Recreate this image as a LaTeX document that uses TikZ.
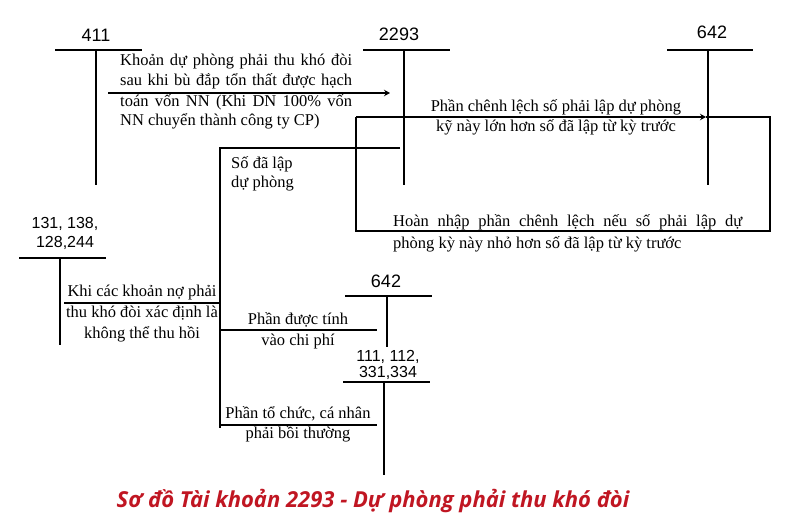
\documentclass[tikz,border=0pt]{standalone}
\usepackage{fontspec}
\setmainfont{Liberation Serif}
\newfontfamily\numfont{Liberation Sans}
\newfontfamily\titlefont{Open Sans}
\usetikzlibrary{arrows.meta}
\definecolor{titlered}{RGB}{192,22,34}
\begin{document}
\begin{tikzpicture}[x=1pt,y=-1pt,
  line/.style={line width=1.6pt},
  flow/.style={line width=1.6pt, -{Stealth[length=6pt,width=6.5pt,inset=2pt]}},
  acct/.style={font=\numfont\fontsize{18}{18}\selectfont, anchor=base, inner sep=0pt},
  acctsm/.style={font=\numfont\fontsize{16}{19}\selectfont, anchor=base, inner sep=0pt, align=center},
  txt/.style={font=\fontsize{16.5}{20}\selectfont, inner sep=0pt},
]
\useasboundingbox (0,0) rectangle (800,519);

% account 411
\coordinate (a411L) at (55,50); \coordinate (a411R) at (142,50);
\coordinate (a411T) at (96,50); \coordinate (a411B) at (96,185);
\node[acct] (n411) at (96,42) {411};
\draw[line] (a411L) -- (a411R); \draw[line] (a411T) -- (a411B);

% account 2293
\coordinate (a2293L) at (363,50); \coordinate (a2293R) at (450,50);
\coordinate (a2293T) at (404,50); \coordinate (a2293B) at (404,185);
\node[acct] (n2293) at (399,41) {2293};
\draw[line] (a2293L) -- (a2293R); \draw[line] (a2293T) -- (a2293B);

% account 642 (top)
\coordinate (a642L) at (667,50); \coordinate (a642R) at (753,50);
\coordinate (a642T) at (708,50); \coordinate (a642B) at (708,185);
\node[acct] (n642) at (712,39) {642};
\draw[line] (a642L) -- (a642R); \draw[line] (a642T) -- (a642B);

% account 131...
\coordinate (a131L) at (19,258); \coordinate (a131R) at (106,258);
\coordinate (a131T) at (60,258); \coordinate (a131B) at (60,345);
\node[acctsm] (n131) at (65,247) {131, 138,\\128,244};
\draw[line] (a131L) -- (a131R); \draw[line] (a131T) -- (a131B);

% account 642 (bottom)
\coordinate (b642L) at (345,296); \coordinate (b642R) at (432,296);
\coordinate (b642T) at (387,296); \coordinate (b642B) at (387,347);
\node[acct] (m642) at (386,287) {642};
\draw[line] (b642L) -- (b642R); \draw[line] (b642T) -- (b642B);

% account 111...
\coordinate (a111L) at (343,382); \coordinate (a111R) at (430,382);
\coordinate (a111T) at (384,382); \coordinate (a111B) at (384,475);
\node[acctsm, font=\numfont\fontsize{16}{15.5}\selectfont] (n111) at (388,377) {111, 112,\\331,334};
\draw[line] (a111L) -- (a111R); \draw[line] (a111T) -- (a111B);

% flow 411 -> 2293
\coordinate (f1s) at (108,93); \coordinate (f1e) at (390,93);
\draw[flow] (f1s) -- (f1e);
\node[txt, anchor=base west, text width=232, align=justify] (tKhoan) at (120,66)
  {Khoản dự phòng phải thu khó đòi\linebreak sau khi bù đắp tổn thất được hạch\linebreak toán vốn NN (Khi DN 100\% vốn\linebreak NN chuyển thành công ty CP)};

% loop 2293 <-> 642
\coordinate (lTL) at (356,117); \coordinate (lArr) at (706,117);
\coordinate (lTR) at (770,117); \coordinate (lBR) at (770,231);
\coordinate (lBL) at (356,231);
\draw[flow] (lTL) -- (lArr);
\draw[line] (lArr) -- (lTR) -- (lBR) -- (lBL) -- (lTL);
\node[txt, anchor=base, align=center] (tChenh) at (556,131)
  {Phần chênh lệch số phải lập dự phòng\\kỹ này lớn hơn số đã lập từ kỳ trước};
\node[txt, font=\fontsize{16.5}{22}\selectfont, anchor=base west, text width=349, align=justify] (tHoan) at (393,226)
  {Hoàn nhập phần chênh lệch nếu số phải lập dự\linebreak phòng kỳ này nhỏ hơn số đã lập từ kỳ trước};

% write-off branch
\coordinate (s1) at (400,148); \coordinate (s2) at (220,148); \coordinate (s3) at (220,428);
\draw[line] (s1) -- (s2) -- (s3);
\node[txt, font=\fontsize{16.5}{19}\selectfont, anchor=base west, align=left] (tSo) at (231,187) {Số đã lập\\dự phòng};

\coordinate (k1) at (64,303); \coordinate (k2) at (220,303);
\draw[line] (k1) -- (k2);
\node[txt, font=\fontsize{16.5}{21}\selectfont, anchor=base, align=center] (tKhi) at (142,338)
  {Khi các khoản nợ phải\\thu khó đòi xác định là\\không thể thu hồi};

\coordinate (d1) at (220,330); \coordinate (d2) at (377,330);
\draw[line] (d1) -- (d2);
\node[txt, font=\fontsize{16.5}{21}\selectfont, anchor=base, align=center] (tDuoc) at (298,345)
  {Phần được tính\\vào chi phí};

\coordinate (p1) at (220,425); \coordinate (p2) at (377,425);
\draw[line] (p1) -- (p2);
\node[txt, anchor=base, align=center] (tTo) at (298,438)
  {Phần tổ chức, cá nhân\\phải bồi thường};

% title
\node[font=\titlefont\bfseries\itshape\fontsize{22}{22}\selectfont, text=titlered, anchor=base, inner sep=0pt] (title) at (373,507)
  {Sơ đồ Tài khoản 2293 - Dự phòng phải thu khó đòi};
\end{tikzpicture}
\end{document}
